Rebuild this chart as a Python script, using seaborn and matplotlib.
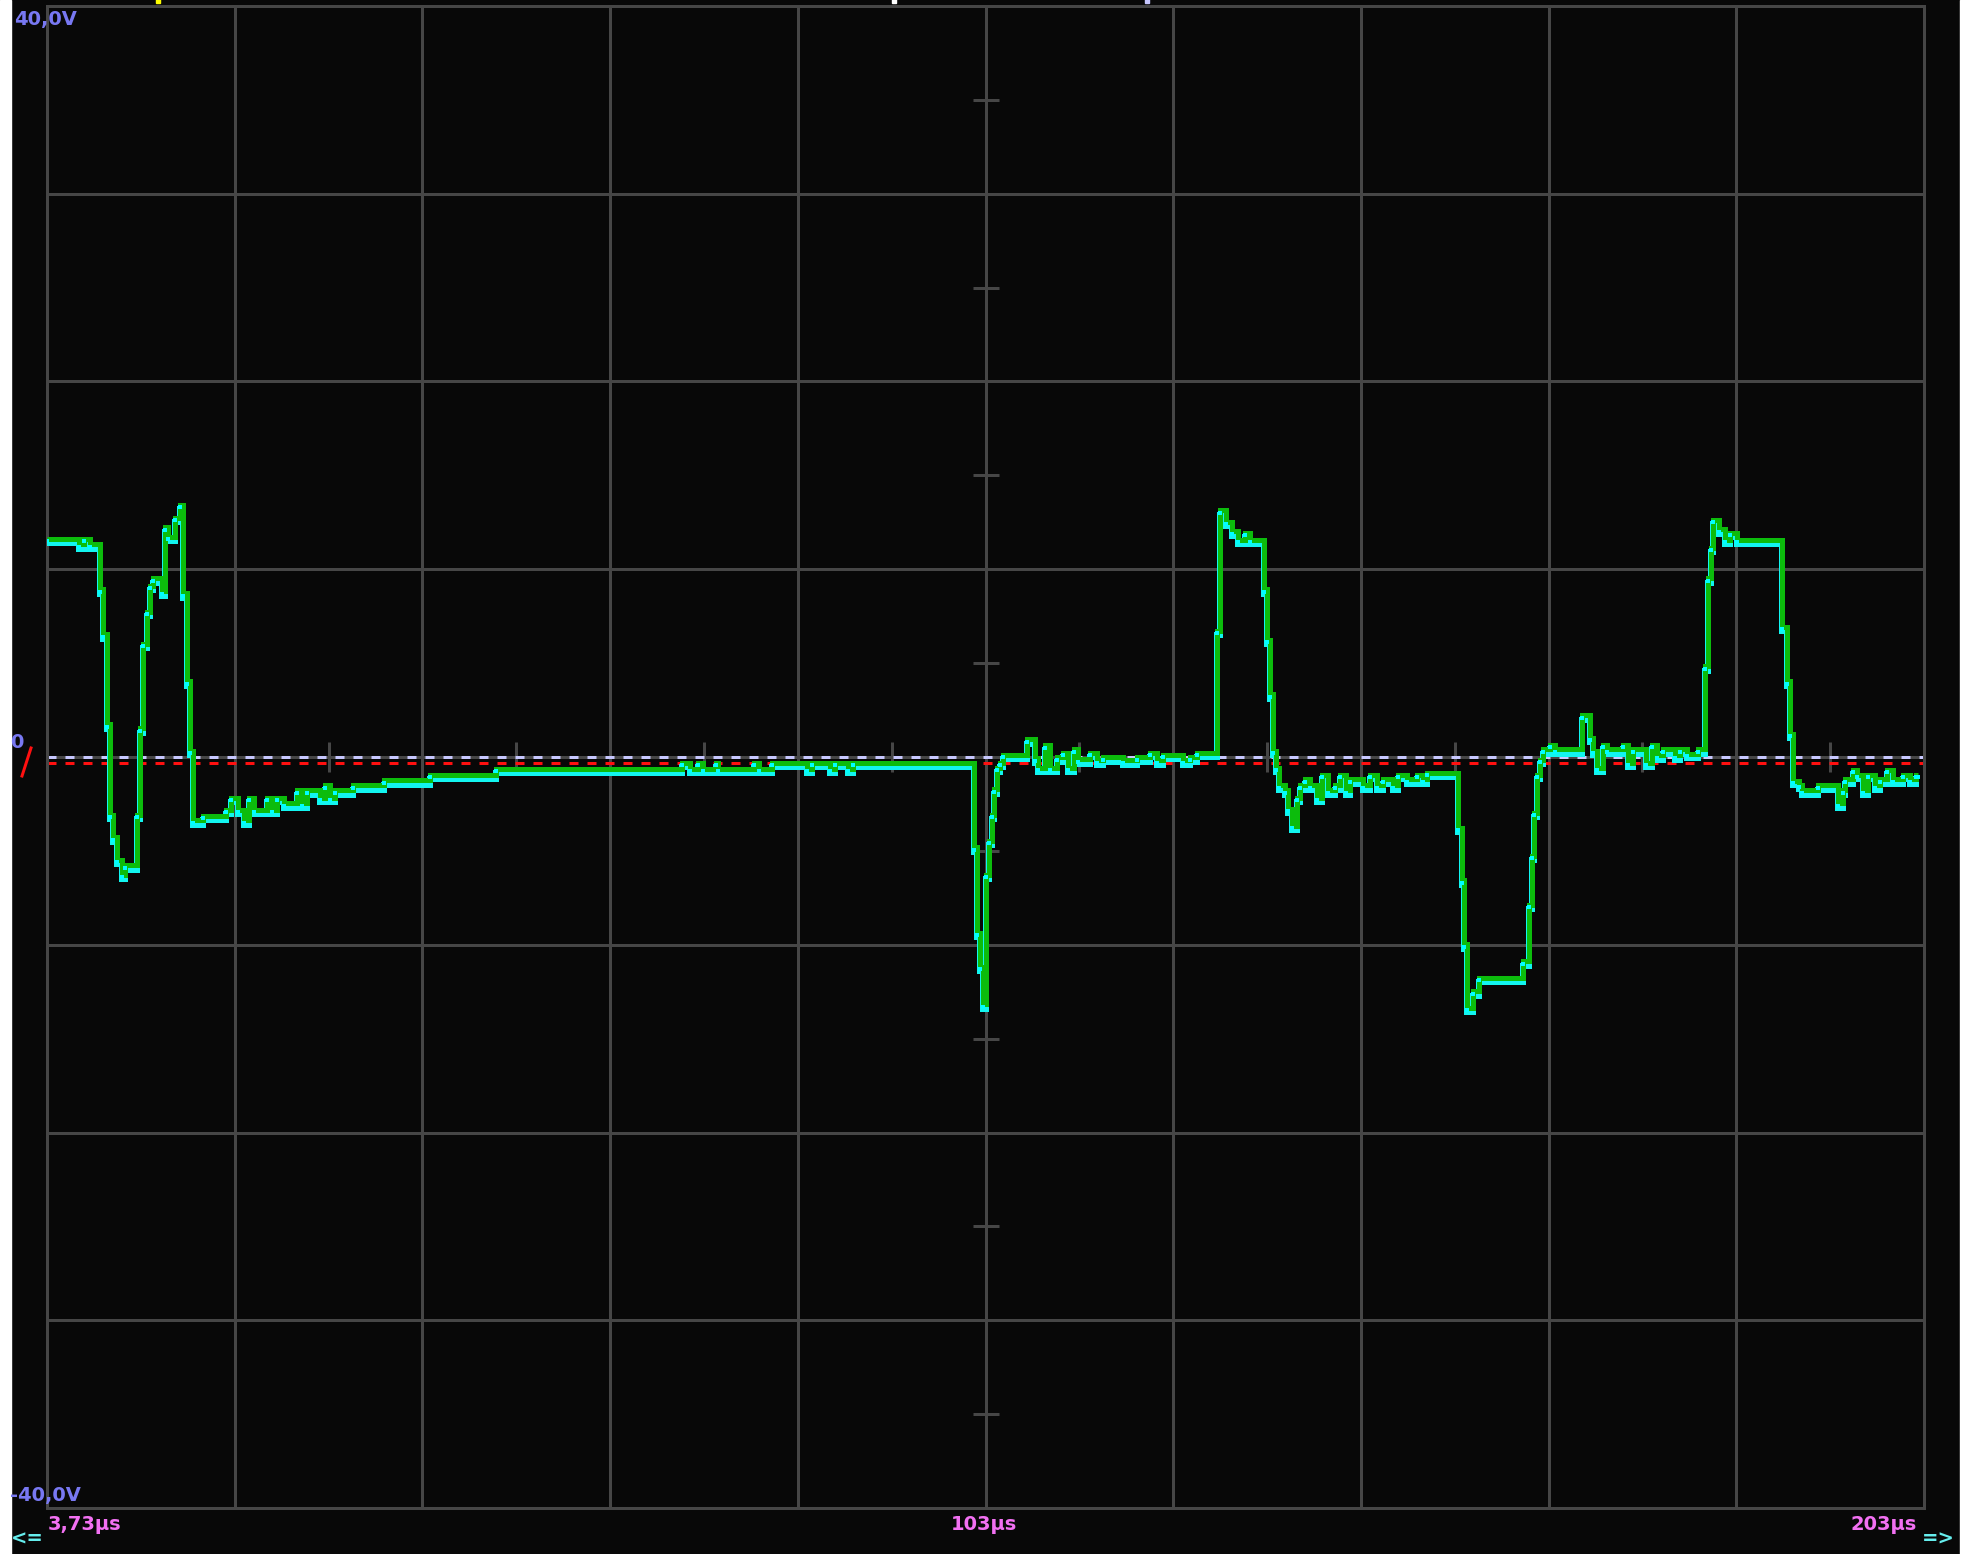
import matplotlib
matplotlib.use("Agg")
import numpy as np
import pandas as pd
import matplotlib.pyplot as plt
import matplotlib.transforms as mtransforms
from matplotlib.lines import Line2D
from matplotlib.patches import Rectangle
import seaborn as sns

# screen settings
t_start = 3.73      # us, left edge ("3,73us")
t_div = 20.0        # us / div  (103us centre, 203us right)
v_div = 10.0        # V / div   (-40,0V .. 40,0V)
n_xdiv, n_ydiv = 10, 8
trig_level = -0.32  # V, red dashed trigger line

# captured trace (us, V), one entry per step corner
time_us = [
    3.73, 7.14, 7.67, 8.31, 9.38, 9.70, 10.12, 10.44, 10.76, 11.19, 11.72, 12.04,
    13.32, 13.64, 13.96, 14.39, 14.70, 15.02, 15.98, 16.30, 16.62, 17.37, 17.90,
    18.22, 18.65, 18.97, 19.29,
    20.35, 22.80, 23.34, 24.08, 24.72, 25.25, 25.79, 27.17, 27.70, 28.24, 28.98,
    30.37, 30.90, 31.43, 32.82, 33.35, 33.88, 34.42, 36.33, 39.64, 44.54, 51.57,
    71.39, 72.24, 73.09, 73.63, 75.01, 75.23, 79.06, 79.59, 80.98, 84.71, 85.24,
    87.16, 87.69, 89.08, 89.61,
    102.50, 102.82, 103.14, 103.46, 103.78, 104.10, 104.42, 104.63, 104.95,
    105.27, 105.59, 108.15, 109.00, 109.32, 110.07, 110.60, 111.35, 111.99,
    112.52, 113.16, 113.58, 114.86, 115.61, 116.25, 118.38, 119.87, 121.26,
    122.00, 122.64, 124.77, 125.52, 126.26,
    128.40, 128.71, 129.35, 129.99, 130.63, 131.38, 131.91, 133.40, 133.72,
    134.04, 134.36, 134.68, 135.00, 135.64, 135.96, 136.38, 136.92, 137.24,
    137.77, 138.30, 139.05, 139.58, 140.22, 140.97, 141.50, 142.14, 142.57,
    143.95, 144.70, 145.44, 146.08, 147.15, 147.68, 148.64, 149.70, 150.34,
    150.77,
    154.07, 154.50, 154.71, 155.03, 155.67, 156.31, 161.00, 161.64, 161.96,
    162.17, 162.49, 162.81, 163.13, 163.88, 164.41, 167.29, 168.14, 168.46,
    168.88, 169.52, 169.95, 171.65, 172.19, 172.72, 174.11, 174.75, 175.28,
    175.92, 177.20, 177.73, 178.48, 179.65,
    180.40, 180.72, 181.04, 181.25, 181.89, 182.53, 183.06, 183.81, 188.60,
    189.14, 189.46, 189.78, 190.42, 190.74, 192.44, 194.57, 195.10, 195.32,
    196.17, 196.60, 197.24, 197.77, 198.52, 199.05, 199.80, 200.44, 201.50,
    202.25, 202.89, 203.10,
]
volts = [
    11.5, 11.2, 11.5, 11.2, 8.8, 6.4, 1.6, -3.2, -4.4, -5.6, -6.4, -5.9,
    -3.2, 1.4, 5.9, 7.6, 9.0, 9.4, 8.7, 12.1, 11.6, 12.6, 13.3,
    8.6, 3.9, 0.2, -3.5,
    -3.25, -2.93, -2.3, -2.93, -3.5, -2.3, -2.93, -2.3, -2.93, -2.3, -2.6,
    -1.9, -2.6, -1.9, -2.3, -1.65, -2.3, -1.9, -1.65, -1.38, -1.07, -0.75,
    -0.43, -0.75, -0.43, -0.75, -0.43, -0.75, -0.43, -0.75, -0.43, -0.75, -0.43,
    -0.75, -0.43, -0.75, -0.43,
    -4.95, -9.5, -11.3, -13.3, -6.4, -4.6, -3.2, -1.86, -0.7,
    -0.43, 0.0, 0.8, -0.2, -0.7, 0.5, -0.7, -0.15, 0.1,
    -0.7, 0.27, -0.25, 0.1, -0.3, -0.15, -0.3, -0.15, 0.1,
    -0.3, 0.0, -0.3, -0.15, 0.1,
    6.6, 13.0, 12.4, 11.9, 11.45, 11.8, 11.45, 8.8, 6.1,
    3.2, 0.2, -0.7, -1.65, -1.9, -2.9, -3.8, -2.3, -1.65,
    -1.33, -1.65, -2.3, -1.07, -1.9, -1.65, -1.07, -1.9, -1.33,
    -1.65, -1.07, -1.65, -1.33, -1.65, -1.07, -1.33, -1.07, -1.33,
    -0.96,
    -3.9, -6.7, -10.1, -13.5, -12.6, -11.9, -11.0, -8.0, -5.4,
    -3.1, -1.07, -0.27, 0.27, 0.53, 0.27, 2.1, 0.9, 0.2,
    -0.7, 0.53, 0.27, 0.53, -0.43, 0.27, -0.43, 0.53, -0.05,
    0.27, -0.05, 0.27, 0.05, 0.27,
    4.7, 9.4, 11.0, 12.5, 12.0, 11.45, 11.8, 11.45, 6.8,
    3.9, 1.1, -1.4, -1.6, -1.9, -1.65, -2.6, -1.9, -1.33,
    -0.8, -1.07, -1.9, -1.07, -1.65, -1.33, -0.8, -1.33, -1.07,
    -1.33, -1.07, -1.07,
]
df = pd.DataFrame({"t": time_us, "v": volts})

W, H = 1969, 1554
BG = "#080808"
GRID = "#464646"
PX = 0.72  # points per pixel at dpi 100

fig = plt.figure(figsize=(W / 100, H / 100), dpi=100, facecolor=BG)
fig.patches.extend([
    Rectangle((0, 0), 11 / W, 1, transform=fig.transFigure, color="white", zorder=-1),
    Rectangle((1960 / W, 0), 9 / W, 1, transform=fig.transFigure, color="white", zorder=-1),
])
ax = fig.add_axes([47 / W, 1 - 1508 / H, (1924 - 47) / W, (1508 - 6) / H])
ax.set_facecolor(BG)

t_end = t_start + n_xdiv * t_div
v_max = n_ydiv / 2 * v_div
ax.set_xlim(t_start, t_end)
ax.set_ylim(-v_max, v_max)
ax.set_xticks(t_start + t_div * np.arange(n_xdiv + 1))
ax.set_yticks(v_div * np.arange(-n_ydiv // 2, n_ydiv // 2 + 1))
ax.grid(True, color=GRID, lw=3 * PX)
ax.set_axisbelow(True)
ax.tick_params(length=0, labelbottom=False, labelleft=False)
for s in ax.spines.values():
    s.set_color(GRID)
    s.set_linewidth(3 * PX)

# half-division ticks on the centre cross
t_mid = t_start + n_xdiv / 2 * t_div
half_t = t_start + t_div * (np.arange(n_xdiv) + 0.5)
half_v = v_div * (np.arange(-n_ydiv // 2, n_ydiv // 2) + 0.5)
ax.plot(half_t, np.zeros_like(half_t), ls="none", marker="|", ms=30 * PX, mew=3 * PX, color=GRID, zorder=1)
ax.plot(np.full_like(half_v, t_mid), half_v, ls="none", marker="_", ms=26 * PX, mew=3 * PX, color=GRID, zorder=1)

# ground and trigger level
ax.axhline(0, color="#c8c8ff", lw=3 * PX, dashes=(3, 3), zorder=2)
ax.axhline(trig_level, color="#ff1010", lw=3 * PX, dashes=(3, 3), zorder=2)

# trace: cyan body, green edge on top, cyan sample dots
down = mtransforms.offset_copy(ax.transData, fig=fig, x=0, y=-2, units="dots")
up = mtransforms.offset_copy(ax.transData, fig=fig, x=0, y=2.5, units="dots")
sns.lineplot(data=df, x="t", y="v", estimator=None, sort=False, drawstyle="steps-post",
             color="#12f5f0", lw=6 * PX, ax=ax, transform=down, zorder=3,
             solid_joinstyle="miter", solid_capstyle="butt")
sns.lineplot(data=df, x="t", y="v", estimator=None, sort=False, drawstyle="steps-post",
             color="#0cbc0c", lw=5 * PX, ax=ax, transform=up, zorder=4,
             solid_joinstyle="miter", solid_capstyle="butt")
sns.scatterplot(data=df, x="t", y="v", marker="s", s=(5 * PX) ** 2, color="#00ffff",
                linewidth=0, ax=ax, zorder=5)
ax.set_xlabel("")
ax.set_ylabel("")

# small channel markers above the screen
top = mtransforms.blended_transform_factory(ax.transData, ax.transAxes)
ax.plot([15.6], [1.0035], transform=top, marker="s", ms=5 * PX, color="#ffff00", ls="none", clip_on=False)
ax.plot([94.0], [1.0035], transform=top, marker="s", ms=5 * PX, color="white", ls="none", clip_on=False)
ax.plot([120.9], [1.0035], transform=top, marker="s", ms=5 * PX, color="#c8c8ff", ls="none", clip_on=False)

# scale labels
fs = 14
lav = "#7878f2"
pink = "#f270f2"
cyan = "#66eeee"
txt = dict(fontsize=fs, fontweight="bold")
fig.text(14 / W, 1 - 10 / H, "40,0V", color=lav, ha="left", va="top", **txt)
fig.text(10 / W, 1 - 1501 / H, "-40,0V", color=lav, ha="left", va="baseline", **txt)
fig.text(48 / W, 1 - 1530 / H, "3,73\u00b5s", color=pink, ha="left", va="baseline", **txt)
fig.text(984 / W, 1 - 1530 / H, "103\u00b5s", color=pink, ha="center", va="baseline", **txt)
fig.text(1917 / W, 1 - 1530 / H, "203\u00b5s", color=pink, ha="right", va="baseline", **txt)
fig.text(11 / W, 1 - 1539 / H, "<=", color=cyan, ha="left", va="center", **txt)
fig.text(1955 / W, 1 - 1539 / H, "=>", color=cyan, ha="right", va="center", **txt)
fig.text(10 / W, 1 - 742 / H, "0", color=lav, ha="left", va="center", **txt)
fig.add_artist(Line2D([22 / W, 31 / W], [1 - 776 / H, 1 - 748 / H], transform=fig.transFigure,
                      color="#ff1010", lw=3 * PX))

fig.savefig("out.png", dpi=100, facecolor=fig.get_facecolor())
